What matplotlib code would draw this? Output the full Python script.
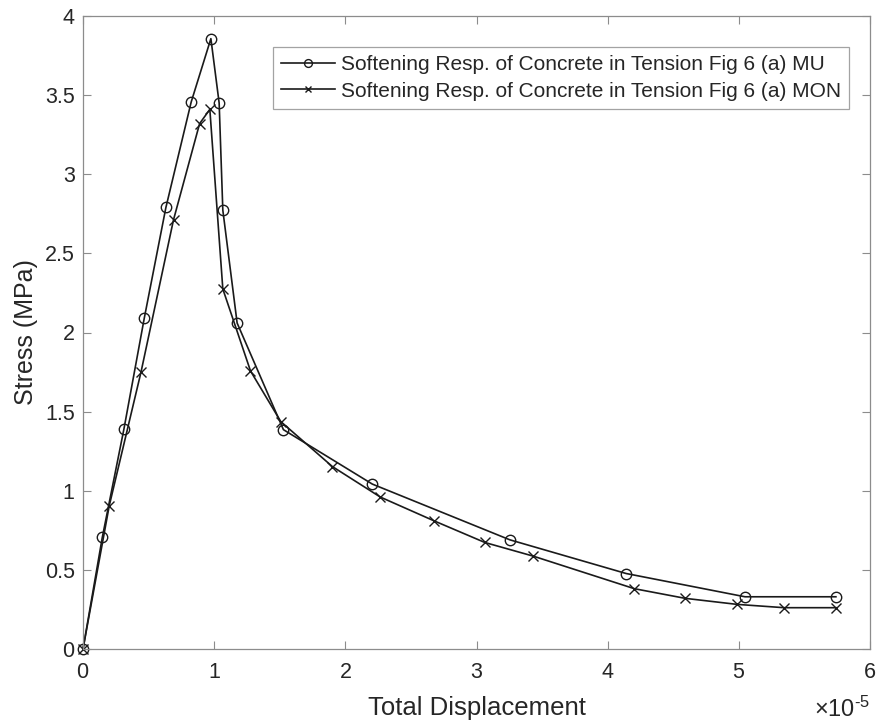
import matplotlib
matplotlib.use("Agg")
import matplotlib.pyplot as plt
from matplotlib.ticker import ScalarFormatter, FormatStrFormatter, MultipleLocator

plt.rcParams['font.family'] = ['Liberation Sans', 'DejaVu Sans']
plt.rcParams['mathtext.fontset'] = 'custom'
plt.rcParams['mathtext.rm'] = 'Liberation Sans'
plt.rcParams['mathtext.default'] = 'regular'

# Displacement values in units of 1e-5, stress in MPa
mu_disp = [0.0, 0.147, 0.312, 0.467, 0.632, 0.825, 0.975, 1.038, 1.066, 1.175,
           1.528, 2.206, 3.254, 4.141, 5.047, 5.740]
mu_stress = [0.0, 0.705, 1.39, 2.09, 2.79, 3.457, 3.857, 3.45, 2.773, 2.06,
             1.386, 1.042, 0.69, 0.477, 0.33, 0.33]

mon_disp = [0.0, 0.200, 0.442, 0.690, 0.889, 0.967, 1.066, 1.277, 1.508, 1.901,
            2.267, 2.676, 3.064, 3.432, 4.204, 4.592, 4.986, 5.346, 5.740]
mon_stress = [0.0, 0.905, 1.749, 2.712, 3.32, 3.41, 2.275, 1.757, 1.437, 1.153,
              0.96, 0.81, 0.673, 0.587, 0.381, 0.32, 0.282, 0.261, 0.261]

scale = 1e-5
labels = ["Softening Resp. of Concrete in Tension Fig 6 (a) MU",
          "Softening Resp. of Concrete in Tension Fig 6 (a) MON"]

text_c = '#262626'
axis_c = '#8c8c8c'

fig = plt.figure(figsize=(8.76, 7.23), dpi=100)
ax = fig.add_axes([83 / 876, 1 - 649 / 723, (870 - 83) / 876, (649 - 16) / 723])

ax.plot([d * scale for d in mu_disp], mu_stress, color='#1a1a1a', lw=1.2,
        marker='o', ms=7.5, mfc='none', mew=1.0, label=labels[0], clip_on=False)
ax.plot([d * scale for d in mon_disp], mon_stress, color='#1a1a1a', lw=1.2,
        marker='x', ms=6.5, mew=1.0, label=labels[1], clip_on=False)

ax.set_xlim(0, 6 * scale)
ax.set_ylim(0, 4)
ax.xaxis.set_major_locator(MultipleLocator(1 * scale))
ax.yaxis.set_major_locator(MultipleLocator(0.5))
fmt = ScalarFormatter(useMathText=True)
fmt.set_powerlimits((0, 0))
ax.xaxis.set_major_formatter(fmt)
ax.yaxis.set_major_formatter(FormatStrFormatter('%g'))
# exponent label drawn separately in the lower right corner
ax.xaxis.get_offset_text().set_visible(False)
ax.annotate(r'$\times10^{\text{-5}}$', xy=(1, 0), xycoords='axes fraction',
            xytext=(0, -49), textcoords='offset points', ha='right',
            va='baseline', fontsize=17, color=text_c)

ax.tick_params(direction='in', length=6, width=0.8, colors=axis_c,
               labelcolor=text_c, labelsize=15.5, top=True, right=True)
ax.tick_params(axis='x', pad=9.5)
ax.tick_params(axis='y', pad=6)
for s in ax.spines.values():
    s.set_color(axis_c)
    s.set_linewidth(0.9)

ax.set_xlabel("Total Displacement", fontsize=18.5, color=text_c, labelpad=9)
ax.set_ylabel("Stress (MPa)", fontsize=18, color=text_c, labelpad=5)

leg = ax.legend(loc='upper right', bbox_to_anchor=(1 - 21 / 787, 1 - 31 / 633),
                fontsize=15, frameon=True, fancybox=False, handlelength=2.6,
                handletextpad=0.25, borderpad=0.4, labelspacing=0.35,
                borderaxespad=0, edgecolor=axis_c, markerscale=0.75)
leg.get_frame().set_linewidth(0.9)
for t in leg.get_texts():
    t.set_color(text_c)

fig.savefig("out.png", dpi=100)
